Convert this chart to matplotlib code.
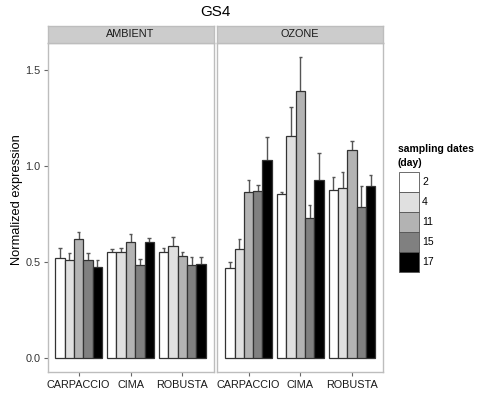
import matplotlib
matplotlib.use("Agg")
import matplotlib.pyplot as plt
import numpy as np
from matplotlib.patches import Rectangle

plt.rcParams['font.family'] = ['Liberation Sans', 'DejaVu Sans']

title = "GS4"
panels = ["AMBIENT", "OZONE"]
cultivars = ["CARPACCIO", "CIMA", "ROBUSTA"]
days = ["2", "4", "11", "15", "17"]
day_colors = ["#FFFFFF", "#E0E0E0", "#B3B3B3", "#808080", "#000000"]

# values[panel][cultivar][day]
ambient_mean = [[0.52, 0.51, 0.62, 0.51, 0.47],
                [0.55, 0.55, 0.60, 0.48, 0.60],
                [0.55, 0.58, 0.53, 0.48, 0.49]]
ambient_upper = [[0.57, 0.545, 0.655, 0.545, 0.51],
                 [0.566, 0.573, 0.646, 0.516, 0.623],
                 [0.57, 0.63, 0.552, 0.523, 0.526]]
ozone_mean = [[0.466, 0.568, 0.861, 0.867, 1.028],
              [0.854, 1.155, 1.387, 0.729, 0.925],
              [0.873, 0.885, 1.083, 0.783, 0.896]]
ozone_upper = [[0.498, 0.617, 0.924, 0.898, 1.151],
               [0.865, 1.304, 1.563, 0.795, 1.065],
               [0.941, 0.969, 1.13, 0.894, 0.951]]

means = [ambient_mean, ozone_mean]
uppers = [ambient_upper, ozone_upper]

W, H = 481, 397
fig = plt.figure(figsize=(W / 100, H / 100), dpi=100)

def fx(px):
    return px / W

def fy(py):
    return 1 - py / H

panel_left = [47.5, 217.5]
panel_right = [213.5, 383.0]
panel_top = 42.7
panel_bottom = 372.0
strip_top = 26.0

border_col = "#BDBDBD"
dodge = 0.9
bw = dodge / len(days)

for p, name in enumerate(panels):
    ax = fig.add_axes([fx(panel_left[p]), fy(panel_bottom),
                       fx(panel_right[p] - panel_left[p]), (panel_bottom - panel_top) / H])
    x = np.arange(1, len(cultivars) + 1)
    for d in range(len(days)):
        offs = x - dodge / 2 + bw * (d + 0.5)
        vals = [means[p][c][d] for c in range(len(cultivars))]
        ups = [uppers[p][c][d] for c in range(len(cultivars))]
        ax.bar(offs, vals, width=bw, color=day_colors[d], edgecolor="#333333",
               linewidth=0.9, zorder=2)
        ax.vlines(offs, vals, ups, color="#555555", linewidth=1.0, zorder=1)
        ax.hlines(ups, offs - bw * 0.18, offs + bw * 0.18, color="#555555",
                  linewidth=1.0, zorder=1)
    ax.set_xlim(0.4, 3.6)
    ax.set_ylim(-0.075, 1.64)
    ax.set_xticks(x)
    ax.set_xticklabels(cultivars, fontsize=7.8, color="#1A1A1A")
    ax.set_yticks([0.0, 0.5, 1.0, 1.5])
    if p == 0:
        ax.set_yticklabels(["0.0", "0.5", "1.0", "1.5"], fontsize=7.8, color="#333333")
        ax.tick_params(axis='y', length=3, color="#666666", width=0.8, pad=2)
    else:
        ax.tick_params(axis='y', left=False, labelleft=False)
    ax.tick_params(axis='x', length=3, color="#666666", width=0.8, pad=3)
    for s in ax.spines.values():
        s.set_color(border_col)
        s.set_linewidth(1.0)
    # strip
    sax = fig.add_axes([fx(panel_left[p]), fy(panel_top),
                        fx(panel_right[p] - panel_left[p]), (panel_top - strip_top) / H])
    sax.set_facecolor("#CCCCCC")
    sax.set_xticks([])
    sax.set_yticks([])
    for s in sax.spines.values():
        s.set_color(border_col)
        s.set_linewidth(1.0)
    sax.text(0.5, 0.5, name, ha="center", va="center", fontsize=7.8,
             color="#1A1A1A", transform=sax.transAxes)

fig.text(fx(215), fy(12), title, ha="center", va="center", fontsize=11)
fig.text(fx(17), fy(200), "Normalized expression", rotation=90, ha="center",
         va="center", fontsize=9.3)

# legend
fig.text(fx(398), fy(149), "sampling dates", ha="left", va="center",
         fontsize=7.5, fontweight="bold")
fig.text(fx(398), fy(163), "(day)", ha="left", va="center",
         fontsize=7.5, fontweight="bold")
key_top = 171.7
key_h = 20.0
for d, lab in enumerate(days):
    y0 = key_top + d * key_h
    fig.patches.append(Rectangle((fx(399), fy(y0 + key_h)), fx(20), key_h / H,
                                 facecolor=day_colors[d], edgecolor="#555555",
                                 linewidth=0.6, transform=fig.transFigure))
    fig.text(fx(422), fy(y0 + key_h / 2), lab, ha="left", va="center",
             fontsize=7.5)

fig.savefig("out.png", dpi=100)
